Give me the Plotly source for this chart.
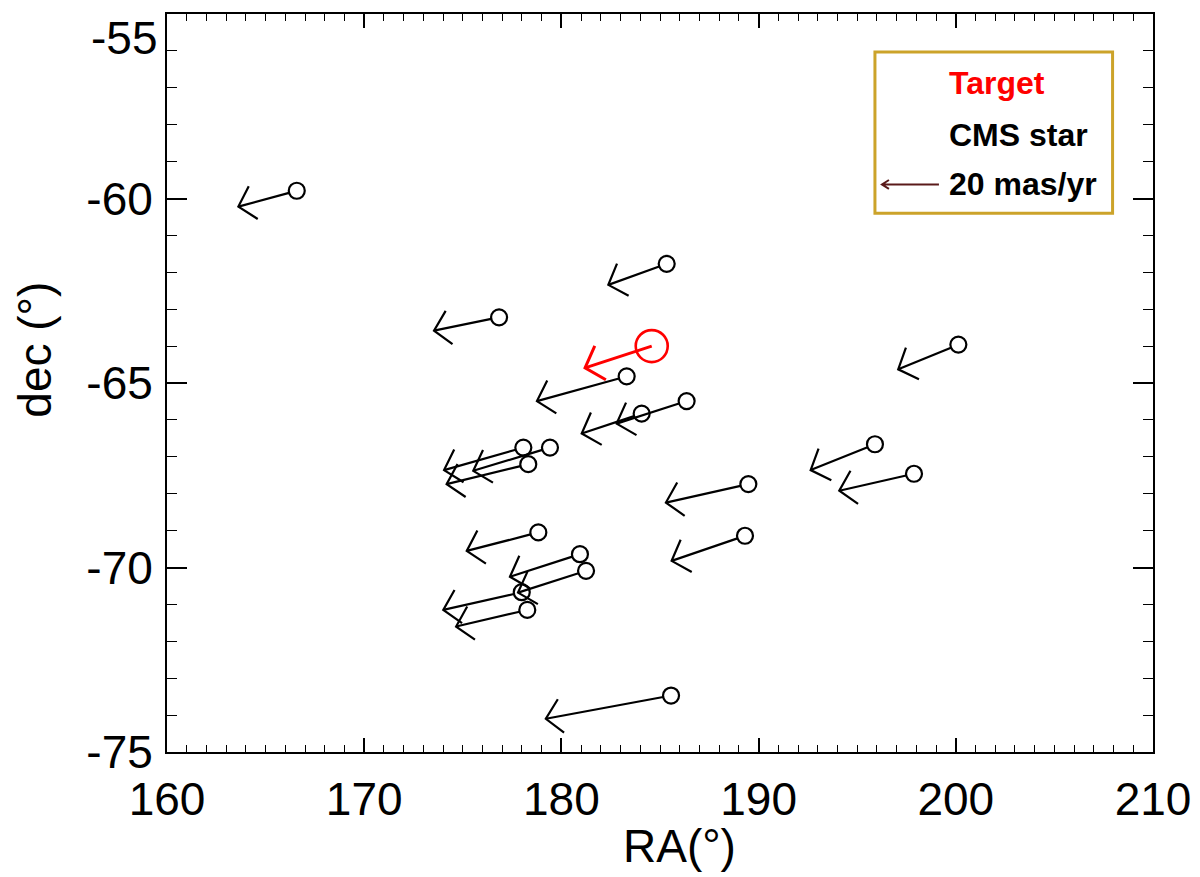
import math

import plotly.graph_objects as go

# CMS stars: position (deg) and arrow tip (deg)
ra = [166.58, 185.34, 176.84, 183.31, 200.13, 186.35, 184.07, 178.07, 179.42, 178.32,
      178.83, 180.94, 181.25, 177.99, 178.27, 189.48, 189.31, 195.90, 197.88, 185.56]
dec = [-59.79, -61.77, -63.22, -64.82, -63.96, -65.49, -65.83, -66.75, -66.75, -67.20,
       -69.05, -69.64, -70.09, -70.67, -71.15, -67.74, -69.14, -66.66, -67.46, -73.47]
ra_end = [163.62, 182.38, 173.54, 178.76, 197.08, 182.80, 181.03, 174.05, 175.53, 174.18,
          175.20, 177.39, 177.80, 174.01, 174.66, 185.30, 185.59, 192.64, 194.09, 179.21]
dec_end = [-60.22, -62.34, -63.58, -65.49, -64.63, -66.10, -66.37, -67.36, -67.38, -67.74,
           -69.55, -70.25, -70.68, -71.15, -71.60, -68.24, -69.82, -67.36, -67.92, -74.10]

# target
target_ra = [184.58]
target_dec = [-64.00]
target_ra_end = [181.20]
target_dec_end = [-64.59]

x_ticks = [160, 170, 180, 190, 200, 210]
y_ticks = [-75, -70, -65, -60, -55]

legend_labels = ["Target", "CMS star", "20 mas/yr"]
legend_colors = ["#FF0000", "#000000", "#000000"]

X_RANGE = [160, 210]
Y_RANGE = [-75, -55]
W, H = 1200, 877
# page body has an 8px offset, margins compensate for it
MARGIN = dict(l=159, r=55, t=4, b=133)
PLOT_W = W - MARGIN["l"] - MARGIN["r"]
PLOT_H = H - MARGIN["t"] - MARGIN["b"]
PX_X = PLOT_W / (X_RANGE[1] - X_RANGE[0])
PX_Y = PLOT_H / (Y_RANGE[1] - Y_RANGE[0])

FONT = "Liberation Sans, Arial, Helvetica, sans-serif"
LEG_FONT = "Liberation Sans Narrow, Arial Narrow, Liberation Sans, Arial, sans-serif"


def arrow_paths(x0s, y0s, x1s, y1s, head=23, angle=48, gap=0):
    xs, ys = [], []
    for x0, y0, x1, y1 in zip(x0s, y0s, x1s, y1s):
        vx = (x0 - x1) * PX_X
        vy = (y0 - y1) * PX_Y
        n = math.hypot(vx, vy)
        ux, uy = vx / n, vy / n
        sx = x0 - ux * gap / PX_X
        sy = y0 - uy * gap / PX_Y
        xs += [sx, x1, None]
        ys += [sy, y1, None]
        pts = []
        for a in (angle, -angle):
            t = math.radians(a)
            bx = ux * math.cos(t) - uy * math.sin(t)
            by = ux * math.sin(t) + uy * math.cos(t)
            pts.append((x1 + bx * head / PX_X, y1 + by * head / PX_Y))
        xs += [pts[0][0], x1, pts[1][0], None]
        ys += [pts[0][1], y1, pts[1][1], None]
    return xs, ys


fig = go.Figure()

ax, ay = arrow_paths(ra, dec, ra_end, dec_end, gap=8)
fig.add_trace(go.Scatter(x=ax, y=ay, mode="lines",
                         line=dict(color="black", width=2.2), hoverinfo="skip"))
fig.add_trace(go.Scatter(x=ra, y=dec, mode="markers",
                         marker=dict(symbol="circle-open", size=16, color="black",
                                     line=dict(width=2.2))))

tx, ty = arrow_paths(target_ra, target_dec, target_ra_end, target_dec_end, head=24)
fig.add_trace(go.Scatter(x=tx, y=ty, mode="lines",
                         line=dict(color="#FF0000", width=3), hoverinfo="skip"))
fig.add_trace(go.Scatter(x=target_ra, y=target_dec, mode="markers",
                         marker=dict(symbol="circle-open", size=32, color="#FF0000",
                                     line=dict(width=2.6))))

axis_common = dict(
    showline=True, linecolor="black", linewidth=2, mirror="ticks",
    ticks="inside", tickwidth=1.6, tickcolor="black",
    showgrid=False, zeroline=False, tickmode="array",
    tickfont=dict(family=FONT, size=46, color="black"),
)
fig.update_xaxes(range=X_RANGE, tickvals=x_ticks, ticktext=[str(v) for v in x_ticks],
                 ticklen=14,
                 minor=dict(dtick=1, tickmode="linear", tick0=160, ticks="inside",
                            ticklen=7, tickwidth=1.4, tickcolor="black", showgrid=False),
                 ticklabelstandoff=6, ticklabeloverflow="allow", **axis_common)
# the top label (-55) sits lower in the original, it is added separately below
fig.update_yaxes(range=Y_RANGE, tickvals=y_ticks,
                 ticktext=[str(v) if v != Y_RANGE[1] else "" for v in y_ticks],
                 ticklen=20,
                 minor=dict(dtick=1, tickmode="linear", tick0=-75, ticks="inside",
                            ticklen=10, tickwidth=1.4, tickcolor="black", showgrid=False),
                 ticklabelstandoff=3, **axis_common)

fig.add_annotation(text=str(Y_RANGE[1]), xref="paper", yref="paper",
                   x=-8 / PLOT_W, y=1 + 4 / PLOT_H, xanchor="right", yanchor="top",
                   showarrow=False, font=dict(family=FONT, size=46, color="black"))

# axis titles
fig.add_annotation(text="RA(°)", xref="paper", yref="paper", x=0.52, y=-0.128,
                   xanchor="center", yanchor="middle", showarrow=False,
                   font=dict(family=FONT, size=46, color="black"))
fig.add_annotation(text="dec (°)", xref="paper", yref="paper", x=-0.134, y=0.545,
                   xanchor="center", yanchor="middle", textangle=-90, showarrow=False,
                   font=dict(family=FONT, size=46, color="black"))

# legend box
LEG_X0, LEG_X1 = 0.718, 0.959
LEG_Y0, LEG_Y1 = 0.730, 0.9486
fig.add_shape(type="rect", xref="paper", yref="paper", x0=LEG_X0, x1=LEG_X1,
              y0=LEG_Y0, y1=LEG_Y1, line=dict(color="#CCA32A", width=3),
              fillcolor="white", layer="above")
row_y = [0.906, 0.836, 0.769]
for lbl, col, yy in zip(legend_labels, legend_colors, row_y):
    fig.add_annotation(text=f"<b>{lbl}</b>", xref="paper", yref="paper", x=0.791, y=yy,
                       xanchor="left", yanchor="middle", showarrow=False,
                       font=dict(family=LEG_FONT, size=32, color=col))

# legend arrow glyph (20 mas/yr)
ax0 = LEG_X0 + 7 / PLOT_W
ax1 = ax0 + 57 / PLOT_W
ay0 = row_y[2]
hw = 7 / PLOT_W
hh = 4.5 / PLOT_H
fig.add_shape(type="path", xref="paper", yref="paper",
              path=f"M {ax1},{ay0} L {ax0},{ay0} M {ax0 + hw},{ay0 + hh} L {ax0},{ay0} L {ax0 + hw},{ay0 - hh}",
              line=dict(color="#5A1A1A", width=2), layer="above")

fig.update_layout(
    width=W, height=H, margin=MARGIN,
    plot_bgcolor="white", paper_bgcolor="white",
    showlegend=False,
)

fig.write_html("out.html")
